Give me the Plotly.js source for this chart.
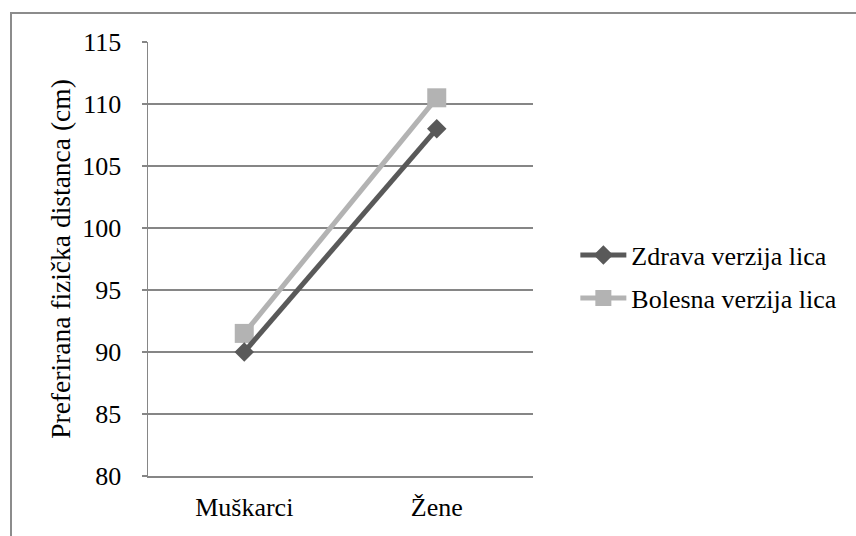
<!DOCTYPE html>
<html>
<head>
<meta charset="utf-8">
<script src="https://cdn.plot.ly/plotly-3.0.1.min.js"></script>
<style>
  html, body { margin: 0; padding: 0; background: #fff; }
  #wrap { position: relative; width: 856px; height: 536px; overflow: hidden; }
  #frame { position: absolute; left: 10px; top: 12px; width: 900px; height: 600px;
           border-left: 2px solid #8c8c8c; border-top: 2px solid #8c8c8c; pointer-events: none; }
  #chart { position: absolute; left: 0; top: 0; width: 856px; height: 536px; }
</style>
</head>
<body>
<div id="wrap">
  <div id="chart"></div>
  <div id="frame"></div>
</div>
<script>
const categories = ["Muškarci", "Žene"];
const zdrava = [90, 108];
const bolesna = [91.5, 110.5];
const seriesNames = ["Zdrava verzija lica", "Bolesna verzija lica"];
const yTickValues = [80, 85, 90, 95, 100, 105, 110, 115];

const fontFam = 'Liberation Serif, Times New Roman, serif';
const fs = 26;

const traces = [
  {
    x: categories, y: bolesna, name: seriesNames[1], type: 'scatter', mode: 'lines+markers',
    line: { color: '#b3b3b3', width: 5 },
    marker: { symbol: 'square', size: 19, color: '#b3b3b3' },
    legend: 'legend2'
  },
  {
    x: categories, y: zdrava, name: seriesNames[0], type: 'scatter', mode: 'lines+markers',
    line: { color: '#595959', width: 5 },
    marker: { symbol: 'diamond', size: 15, color: '#595959' },
    legend: 'legend'
  }
];

const legendCommon = {
  xref: 'paper', yref: 'paper', yanchor: 'middle', xanchor: 'left',
  font: { family: fontFam, size: fs, color: '#000' }, bgcolor: 'rgba(0,0,0,0)',
  borderwidth: 0, itemwidth: 46
};

const layout = {
  width: 856, height: 536,
  margin: { l: 148, r: 323, t: 42, b: 60, autoexpand: false },
  paper_bgcolor: '#fff', plot_bgcolor: '#fff',
  font: { family: fontFam, size: fs, color: '#000' },
  showlegend: true,
  xaxis: {
    type: 'category', range: [-0.5, 1.5],
    showgrid: false, zeroline: false,
    showline: true, linecolor: '#868686', linewidth: 1.5,
    ticks: '', ticklabelstandoff: 7,
    tickfont: { family: fontFam, size: fs, color: '#000' }
  },
  yaxis: {
    range: [80, 115], tickvals: yTickValues, ticktext: yTickValues.map(String),
    showgrid: true, gridcolor: '#868686', gridwidth: 1.5,
    zeroline: false, showline: true, linecolor: '#868686', linewidth: 1.5,
    ticks: 'outside', ticklen: 5, tickcolor: '#868686', tickwidth: 1.5,
    ticklabelstandoff: 15,
    tickfont: { family: fontFam, size: fs, color: '#000' },
    title: { text: 'Preferirana fizička distanca (cm)', standoff: 3,
             font: { family: fontFam, size: 27.5, color: '#000' } }
  },
  legend: Object.assign({ x: 1.11, y: (476 - 255) / 434 }, legendCommon),
  legend2: Object.assign({ x: 1.11, y: (476 - 298) / 434 }, legendCommon)
};

Plotly.newPlot('chart', traces, layout, { displayModeBar: false, staticPlot: true });
</script>
</body>
</html>
